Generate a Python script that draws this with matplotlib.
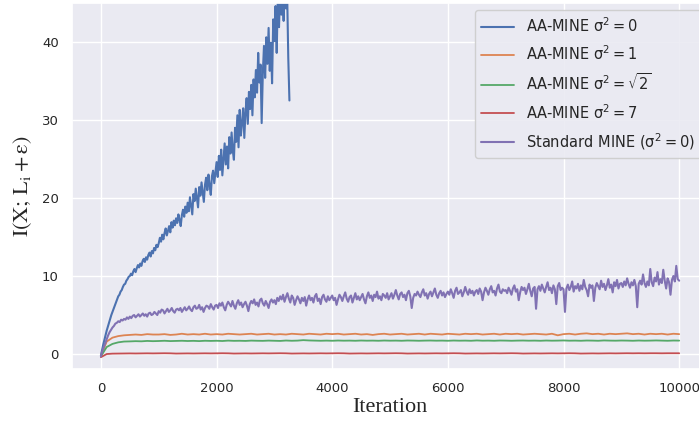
import matplotlib
matplotlib.use('Agg')
import matplotlib.pyplot as plt
import numpy as np
import seaborn as sns

# Values
# AA-MINE sigma^2 = 0, one value every 20 iterations (run stops near 3260)
aa_mine_0 = [
    -0.2, 0.5, 1.2, 1.8, 2.4, 3.0, 3.5, 4.0, 4.5, 5.0, 5.4, 5.8, 6.2, 6.6, 7.0, 7.4, 7.6, 8.0, 8.2, 8.6, 8.9, 9.0, 9.4, 9.6, 9.9,
    10.0, 10.3, 10.1, 10.6, 10.9, 10.5, 11.0, 11.4, 11.1, 11.6, 11.3, 11.9, 12.2, 11.8, 12.4, 12.1, 12.7, 13.0, 12.5, 13.2, 12.9, 13.6, 13.3, 14.0, 13.7,
    14.2, 14.9, 14.4, 15.3, 14.7, 15.5, 16.1, 15.2, 15.8, 16.4, 15.6, 16.9, 16.2, 17.1, 16.5, 17.4, 16.8, 17.9, 17.2, 16.4, 17.8, 18.5, 17.6, 18.9, 18.1,
    19.4, 18.3, 20.1, 19.0, 17.9, 20.5, 19.6, 21.2, 20.0, 18.8, 21.4, 20.3, 22.0, 20.8, 19.5, 21.7, 22.6, 21.0, 23.0, 21.6, 20.4, 22.8, 23.5, 21.9, 23.3,
    24.6, 22.7, 25.4, 23.6, 26.2, 22.9, 25.0, 27.0, 24.3, 26.6, 23.8, 27.8, 25.7, 28.4, 26.1, 24.9, 29.0, 27.2, 30.6, 26.5, 31.3, 28.0, 29.6, 31.5, 27.7,
    31.0, 32.8, 29.5, 33.6, 31.4, 34.5, 30.6, 35.2, 32.9, 36.4, 33.5, 38.6, 34.8, 37.1, 29.6, 36.0, 39.5, 35.4, 40.6, 37.2, 41.8, 36.3, 39.9, 34.7, 42.9,
    40.1, 44.6, 38.6, 46.2, 41.9, 47.0, 43.5, 45.8, 42.7, 47.5, 44.3, 46.5, 38.0, 32.5,
]
step_blue = 20

# Standard MINE, one value every 25 iterations
standard_mine = [
    -0.3, 0.4, 0.9, 1.4, 1.9, 2.4, 2.8, 3.1, 3.4, 3.6, 3.9, 4.0, 4.2, 4.1, 4.4, 4.3, 4.5, 4.4, 4.7, 4.5,
    4.8, 4.6, 4.9, 5.0, 4.7, 4.9, 5.1, 4.8, 5.0, 5.2, 4.9, 5.1, 4.8, 5.2, 5.3, 5.0, 5.1, 5.4, 5.2, 5.0,
    5.5, 5.3, 5.7, 5.6, 5.2, 5.5, 5.8, 5.4, 5.6, 5.9, 5.5, 5.3, 5.7, 5.8, 5.6, 5.9, 5.4, 5.7, 6.0, 5.6,
    5.8, 6.1, 5.7, 5.5, 6.0, 6.2, 5.8, 5.9, 6.3, 5.7, 6.0, 5.4, 5.9, 6.2, 6.1, 5.8, 6.4, 6.0, 5.7, 6.2,
    6.3, 5.9, 6.5, 6.2, 6.6, 6.0, 5.6, 6.3, 6.7, 6.4, 6.1, 6.8, 6.2, 5.8, 6.5, 6.9, 6.3, 6.6, 6.0, 6.4,
    6.7, 6.2, 5.5, 6.4, 6.8, 6.5, 7.0, 6.3, 6.6, 6.1, 6.9, 7.1, 6.5, 6.2, 6.8, 6.4, 5.9, 6.7, 7.0, 6.6,
    6.9, 6.4, 7.2, 6.8, 7.4, 7.0, 7.6, 6.7, 7.3, 7.8, 7.1, 6.6, 7.5, 7.2, 6.3, 6.9, 7.4, 7.0, 6.5, 7.2,
    6.8, 7.3, 6.2, 7.0, 7.5, 6.9, 7.2, 6.6, 7.4, 7.7, 6.8, 7.1, 6.4, 7.3, 7.6, 7.0, 6.7, 7.4, 6.9, 7.2,
    7.5, 6.9, 7.2, 6.3, 7.0, 7.6, 7.3, 6.8, 7.4, 7.9, 7.1, 6.7, 7.3, 7.5, 6.6, 7.2, 7.8, 7.0, 7.4, 6.9,
    7.3, 7.7, 7.0, 6.5, 7.4, 7.9, 7.2, 7.5, 6.8, 7.6, 7.3, 8.0, 7.1, 7.4, 6.9, 7.7, 7.5, 7.2, 7.8, 7.0,
    7.4, 7.8, 7.1, 7.6, 8.2, 7.5, 7.0, 7.7, 7.9, 7.3, 7.6, 6.9, 7.8, 8.1, 7.4, 5.9, 7.2, 7.7, 7.5, 8.0,
    7.6, 7.3, 7.9, 8.3, 7.5, 7.8, 7.1, 7.7, 8.0, 7.4, 7.9, 8.4, 7.6, 7.2, 7.8, 8.1, 7.5, 7.9, 7.3, 7.7,
    8.0, 7.6, 8.3, 7.8, 7.2, 8.1, 8.5, 7.7, 7.9, 8.2, 7.4, 7.9, 8.6, 8.0, 7.6, 8.3, 7.8, 8.1, 7.5, 8.0,
    8.2, 7.7, 8.4, 8.0, 6.9, 7.9, 8.5, 8.1, 7.6, 8.3, 8.7, 7.9, 8.1, 7.5, 8.4, 8.9, 8.0, 7.8, 8.3, 8.1,
    8.2, 7.8, 8.5, 8.1, 7.6, 8.4, 8.8, 8.0, 8.3, 6.9, 7.9, 8.6, 8.2, 8.5, 7.7, 8.3, 9.0, 8.1, 7.4, 8.4,
    8.6, 5.8, 8.3, 8.7, 8.1, 8.9, 8.4, 7.9, 8.6, 9.2, 8.2, 8.5, 7.8, 8.8, 8.3, 6.4, 8.7, 9.1, 8.2, 8.5,
    8.3, 5.4, 8.4, 8.9, 8.2, 8.6, 9.3, 8.0, 8.7, 8.4, 9.0, 8.1, 8.8, 8.3, 9.5, 8.6, 8.2, 7.4, 8.9, 8.5,
    8.8, 6.8, 8.5, 9.1, 8.7, 8.3, 9.4, 8.6, 9.0, 8.2, 8.8, 9.6, 8.5, 8.9, 7.9, 9.2, 8.7, 9.5, 8.4, 9.0,
    9.1, 8.6, 9.3, 8.8, 9.7, 9.0, 8.5, 9.2, 8.8, 9.5, 8.7, 6.0, 9.0, 9.4, 8.9, 10.2, 9.1, 8.6, 9.3, 8.8,
    10.9, 9.2, 8.7, 9.8, 9.3, 10.5, 8.9, 9.6, 9.1, 10.8, 9.4, 8.4, 9.7, 9.2, 7.6, 9.5, 10.0, 9.3, 11.3, 9.6,
    9.4,
]
step_std = 25

# the three flat AA-MINE runs, one value every 100 iterations
aa_mine_1 = [
    -0.3, 1.6, 2.1, 2.3, 2.4, 2.45, 2.5, 2.45, 2.55, 2.5, 2.5, 2.55, 2.45, 2.5, 2.6, 2.5, 2.55, 2.5, 2.6, 2.5,
    2.55, 2.5, 2.6, 2.55, 2.5, 2.55, 2.6, 2.5, 2.55, 2.6, 2.5, 2.55, 2.5, 2.6, 2.55, 2.5, 2.6, 2.55, 2.5, 2.6,
    2.55, 2.6, 2.5, 2.55, 2.6, 2.5, 2.55, 2.45, 2.55, 2.6, 2.5, 2.55, 2.6, 2.5, 2.55, 2.6, 2.5, 2.6, 2.55, 2.5,
    2.6, 2.55, 2.5, 2.6, 2.55, 2.6, 2.5, 2.55, 2.6, 2.5, 2.6, 2.55, 2.6, 2.5, 2.55, 2.6, 2.55, 2.5, 2.6, 2.4,
    2.55, 2.6, 2.5, 2.6, 2.65, 2.55, 2.6, 2.5, 2.6, 2.55, 2.6, 2.65, 2.55, 2.6, 2.5, 2.6, 2.55, 2.6, 2.5, 2.6,
    2.55,
]
aa_mine_sqrt2 = [
    -0.3, 0.9, 1.3, 1.5, 1.6, 1.62, 1.65, 1.63, 1.68, 1.65, 1.67, 1.7, 1.66, 1.68, 1.7, 1.67, 1.69, 1.66, 1.7, 1.68,
    1.7, 1.67, 1.72, 1.69, 1.7, 1.68, 1.72, 1.7, 1.69, 1.72, 1.7, 1.68, 1.73, 1.7, 1.72, 1.78, 1.74, 1.72, 1.7, 1.72,
    1.7, 1.73, 1.71, 1.72, 1.7, 1.73, 1.71, 1.72, 1.7, 1.73, 1.71, 1.72, 1.7, 1.73, 1.72, 1.7, 1.72, 1.73, 1.71, 1.72,
    1.7, 1.73, 1.71, 1.72, 1.7, 1.74, 1.71, 1.72, 1.7, 1.73, 1.72, 1.7, 1.72, 1.73, 1.71, 1.72, 1.7, 1.73, 1.71, 1.72,
    1.74, 1.71, 1.72, 1.7, 1.73, 1.72, 1.7, 1.74, 1.72, 1.71, 1.73, 1.72, 1.7, 1.73, 1.71, 1.72, 1.74, 1.72, 1.7, 1.73,
    1.72,
]
aa_mine_7 = [-0.4, 0.0, 0.05] + [0.06, 0.07, 0.08, 0.07, 0.08, 0.09, 0.08, 0.09, 0.1, 0.09] * 9 + [0.1, 0.09, 0.1, 0.1, 0.09, 0.1, 0.1, 0.1]
step_flat = 100

labels = [
    r'AA-MINE $\mathregular{\sigma^2=0}$',
    r'AA-MINE $\mathregular{\sigma^2=1}$',
    r'AA-MINE $\mathregular{\sigma^2=\sqrt{2}}$',
    r'AA-MINE $\mathregular{\sigma^2=7}$',
    r'Standard MINE $\mathregular{(\sigma^2=0)}$',
]
colors = ['#4C72B0', '#DD8452', '#55A868', '#C44E52', '#8172B3']

sns.set_theme(style='darkgrid')
plt.rcParams['font.family'] = ['DejaVu Sans']

fig = plt.figure(figsize=(6.99, 4.23), dpi=100)
ax = fig.add_axes([0.103, 0.128, 0.910, 0.865])

ax.plot(np.arange(len(aa_mine_0)) * step_blue, aa_mine_0, color=colors[0], lw=1.5, label=labels[0])
ax.plot(np.arange(len(aa_mine_1)) * step_flat, aa_mine_1, color=colors[1], lw=1.3, label=labels[1])
ax.plot(np.arange(len(aa_mine_sqrt2)) * step_flat, aa_mine_sqrt2, color=colors[2], lw=1.3, label=labels[2])
ax.plot(np.arange(len(aa_mine_7)) * step_flat, aa_mine_7, color=colors[3], lw=1.3, label=labels[3])
ax.plot(np.arange(len(standard_mine)) * step_std, standard_mine, color=colors[4], lw=1.5, label=labels[4])

ax.set_xlim(-500, 10500)
ax.set_ylim(-1.9, 45)
ax.set_xticks([0, 2000, 4000, 6000, 8000, 10000])
ax.set_yticks([0, 10, 20, 30, 40])
ax.tick_params(labelsize=9.5, labelcolor='#262626')

ax.set_xlabel('Iteration', fontsize=16, family='Liberation Serif', labelpad=2)
ax.set_ylabel(r'$\mathrm{I(X;\,L_i+\varepsilon)}$', fontsize=16, math_fontfamily='stix', labelpad=6)

ax.legend(loc='upper right', fontsize=10.5, handlelength=2.3, labelspacing=0.65, framealpha=0.9)

fig.savefig('out.png', dpi=100)
